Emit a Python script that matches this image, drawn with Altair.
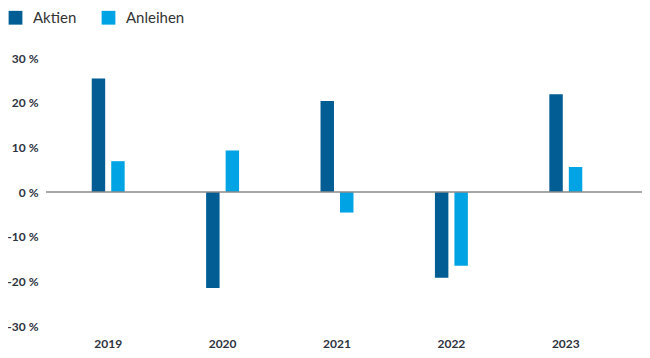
import altair as alt
import pandas as pd

years = ["2019", "2020", "2021", "2022", "2023"]
aktien = [25.4, -21.5, 20.4, -19.2, 21.9]
anleihen = [6.9, 9.3, -4.6, -16.5, 5.6]
series = ["Aktien", "Anleihen"]
colors = ["#015d93", "#00a4e4"]
y_ticks = [-30, -20, -10, 0, 10, 20, 30]

rows = []
for i, y in enumerate(years):
    rows.append({"Jahr": y, "Serie": "Aktien", "Wert": aktien[i]})
    rows.append({"Jahr": y, "Serie": "Anleihen", "Wert": anleihen[i]})
df = pd.DataFrame(rows)

W, H = 572, 268
FONT = "Lato"

bars = alt.Chart(df).mark_bar().encode(
    x=alt.X("Jahr:N", sort=years,
            scale=alt.Scale(paddingInner=0.712, paddingOuter=0.356),
            axis=alt.Axis(title=None, labelAngle=0, domain=False, ticks=False,
                          labelFont=FONT, labelFontWeight="bold", labelFontSize=12,
                          labelColor="#2e3340", labelPadding=12)),
    xOffset=alt.XOffset("Serie:N", sort=series,
                        scale=alt.Scale(paddingInner=0.31, paddingOuter=0)),
    y=alt.Y("Wert:Q", scale=alt.Scale(domain=[-30, 30], nice=False),
            axis=alt.Axis(title=None, values=y_ticks, grid=False, domain=False, ticks=False,
                          labelExpr="datum.value + ' %'",
                          labelFont=FONT, labelFontWeight="bold", labelFontSize=12,
                          labelColor="#2e3340", labelPadding=13)),
    color=alt.Color("Serie:N", sort=series,
                    scale=alt.Scale(domain=series, range=colors),
                    legend=alt.Legend(title=None, orient="none", legendX=-43, legendY=-48,
                                      direction="horizontal", symbolType="square",
                                      symbolSize=190, symbolStrokeWidth=0,
                                      labelFont=FONT, labelFontSize=15, labelColor="#333333",
                                      columnPadding=24, labelOffset=10, padding=0)),
)

zero = alt.Chart(pd.DataFrame({"z": [0]})).mark_rule(color="#8a8a8a", strokeWidth=1.5).encode(
    y=alt.Y("z:Q"),
    x=alt.value(-5),
    x2=alt.value(W + 20),
)

chart = alt.layer(bars, zero).properties(
    width=W, height=H,
    autosize=alt.AutoSizeParams(type="none"),
    padding={"left": 43, "top": 50, "right": 19, "bottom": 24},
).configure_view(stroke=None)

chart.save("out.html", embed_options={"renderer": "svg", "actions": False})
